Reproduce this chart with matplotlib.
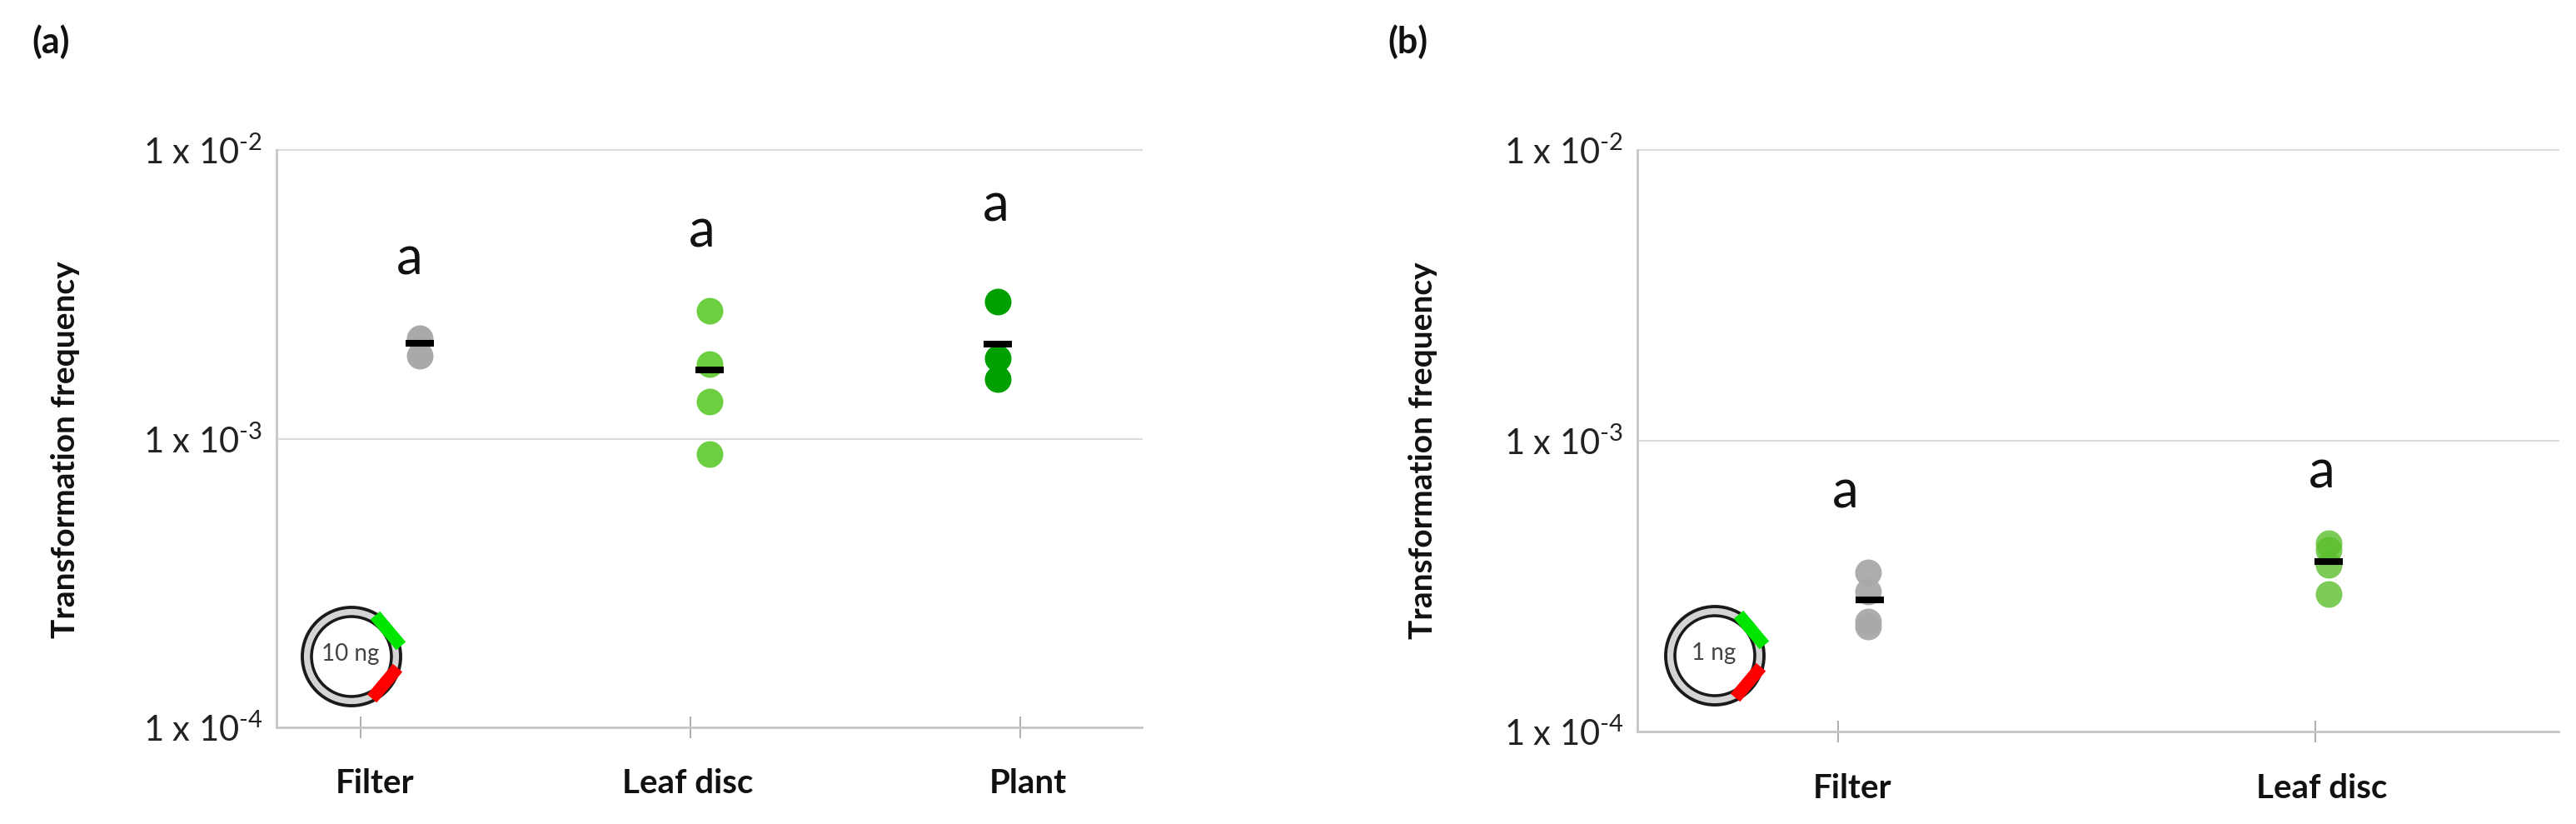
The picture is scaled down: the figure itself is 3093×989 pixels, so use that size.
import matplotlib
matplotlib.use("Agg")
import matplotlib.pyplot as plt
from matplotlib.patches import Circle, Polygon
from matplotlib.transforms import blended_transform_factory
import numpy as np

plt.rcParams["font.family"] = ["Lato", "DejaVu Sans"]
plt.rcParams["mathtext.fontset"] = "custom"
plt.rcParams["mathtext.rm"] = "Lato"
plt.rcParams["mathtext.default"] = "regular"

W, H = 3093, 989

# Panel a, 10 ng
a_filter = [2.23e-3, 1.94e-3]
a_leaf = [2.77e-3, 1.81e-3, 1.34e-3, 8.85e-4]
a_plant = [2.98e-3, 1.90e-3, 1.61e-3]
a_means = [2.14e-3, 1.73e-3, 2.13e-3]
a_groups = ["Filter", "Leaf disc", "Plant"]
a_letter_y = [4.16e-3, 5.21e-3, 6.37e-3]

# Panel b, 1 ng
b_filter = [3.52e-4, 3.03e-4, 2.39e-4, 2.30e-4]
b_leaf = [4.45e-4, 4.20e-4, 3.74e-4, 2.97e-4]
b_means = [2.84e-4, 3.85e-4]
b_groups = ["Filter", "Leaf disc"]
b_letter_y = [6.6e-4, 7.78e-4]

yticks = [1e-4, 1e-3, 1e-2]
ytick_labels = [r"1 x 10$^{\text{-}4}$", r"1 x 10$^{\text{-}3}$", r"1 x 10$^{\text{-}2}$"]

GRAY = "#a9a9a9"
LIGHT = "#6ccf42"
LIGHT_B = "#5abf2c"
DARK = "#00a000"
AXIS = "#c6c6c6"
GRID = "#dcdcdc"

fig = plt.figure(figsize=(W / 100, H / 100), dpi=100)


def make_axes(box, xlim, ticks):
    left, top, right, bottom = box
    ax = fig.add_axes([left / W, 1 - bottom / H, (right - left) / W, (bottom - top) / H])
    ax.set_yscale("log")
    ax.set_ylim(1e-4, 1e-2)
    ax.set_xlim(*xlim)
    ax.set_yticks(yticks)
    ax.set_yticklabels(ytick_labels, fontsize=30, color="#222222")
    ax.minorticks_off()
    ax.set_xticks(ticks)
    ax.set_xticklabels([])
    ax.tick_params(axis="y", length=0, pad=12)
    ax.tick_params(axis="x", direction="inout", length=19, width=1.5, color="#b0b0b0")
    ax.spines["top"].set_visible(False)
    ax.spines["right"].set_visible(False)
    ax.spines["left"].set_color(AXIS)
    ax.spines["bottom"].set_color(AXIS)
    ax.spines["left"].set_linewidth(2)
    ax.spines["bottom"].set_linewidth(2)
    for y in yticks[1:]:
        ax.axhline(y, color=GRID, lw=1.6, zorder=0, clip_on=False)
    return ax


def draw_group(ax, x, values, color, mean_x, mean, alpha=1.0):
    ax.scatter([x] * len(values), values, s=530, color=color, alpha=alpha, linewidths=0, zorder=3)
    ax.plot([mean_x], [mean], marker="_", ms=24.5, mew=5.8, color="black", zorder=4)


def letters_and_labels(ax, letter_x, letter_y, label_x, groups, label_y):
    for x, y in zip(letter_x, letter_y):
        ax.text(x, y, "a", fontsize=46, ha="center", va="center", color="#111111")
    trans = blended_transform_factory(ax.transData, ax.transAxes)
    for x, name in zip(label_x, groups):
        ax.text(x, label_y, name, transform=trans, fontsize=29, fontweight="bold",
                ha="center", va="center", color="#111111")


# Panel a
ax1 = make_axes((332, 180, 1371, 873), (-0.255, 2.369), [0, 1, 2])
draw_group(ax1, 0.18, a_filter, GRAY, 0.18, a_means[0])
draw_group(ax1, 1.058, a_leaf, LIGHT, 1.058, a_means[1])
draw_group(ax1, 1.932, a_plant, DARK, 1.932, a_means[2])
letters_and_labels(ax1, [0.149, 1.035, 1.927], a_letter_y, [0.043, 0.992, 2.023], a_groups, -0.0975)

# Panel b
ax2 = make_axes((1966, 180, 3072, 878), (-0.42, 1.51), [0, 1])
draw_group(ax2, 0.063, b_filter, GRAY, 0.066, b_means[0], alpha=0.95)
draw_group(ax2, 1.028, b_leaf, LIGHT_B, 1.028, b_means[1], alpha=0.8)
letters_and_labels(ax2, [0.016, 1.014], b_letter_y, [0.031, 1.014], b_groups, -0.0975)

# Overlay in image pixels for panel letters, y titles and the plasmids
over = fig.add_axes([0, 0, 1, 1], facecolor="none")
over.set_xlim(0, W)
over.set_ylim(H, 0)
over.axis("off")

over.text(61, 50, "(a)", fontsize=31, fontweight="bold", ha="center", va="center", color="#111111")
over.text(1690, 50, "(b)", fontsize=31, fontweight="bold", ha="center", va="center", color="#111111")
over.text(79, 540, "Transformation frequency", fontsize=28, fontweight="bold",
          rotation=90, ha="center", va="center", color="#111111")
over.text(1708, 541, "Transformation frequency", fontsize=28, fontweight="bold",
          rotation=90, ha="center", va="center", color="#111111")


def bar(cx, cy, angle, length=48, width=15, color="red"):
    a = np.deg2rad(angle)
    u = np.array([np.cos(a), np.sin(a)]) * length / 2
    v = np.array([-np.sin(a), np.cos(a)]) * width / 2
    c = np.array([cx, cy])
    over.add_patch(Polygon([c - u - v, c + u - v, c + u + v, c - u + v], color=color, lw=0, zorder=5))


def plasmid(cx, cy, label):
    over.add_patch(Circle((cx, cy), 53.5, fill=False, ec="#d4d4d4", lw=5, zorder=2))
    over.add_patch(Circle((cx, cy), 59, fill=False, ec="#1a1a1a", lw=2.8, zorder=3))
    over.add_patch(Circle((cx, cy), 48, fill=False, ec="#1a1a1a", lw=2.6, zorder=3))
    bar(cx + 44, cy - 31, 50, color="#00e600")
    bar(cx + 40, cy + 32, 130, color="#ff0000")
    over.text(cx - 1, cy - 3, label, fontsize=20, ha="center", va="center", color="#444444")


plasmid(422, 788, "10 ng")
plasmid(2059, 787, "1 ng")

fig.savefig("out.png", dpi=100)
